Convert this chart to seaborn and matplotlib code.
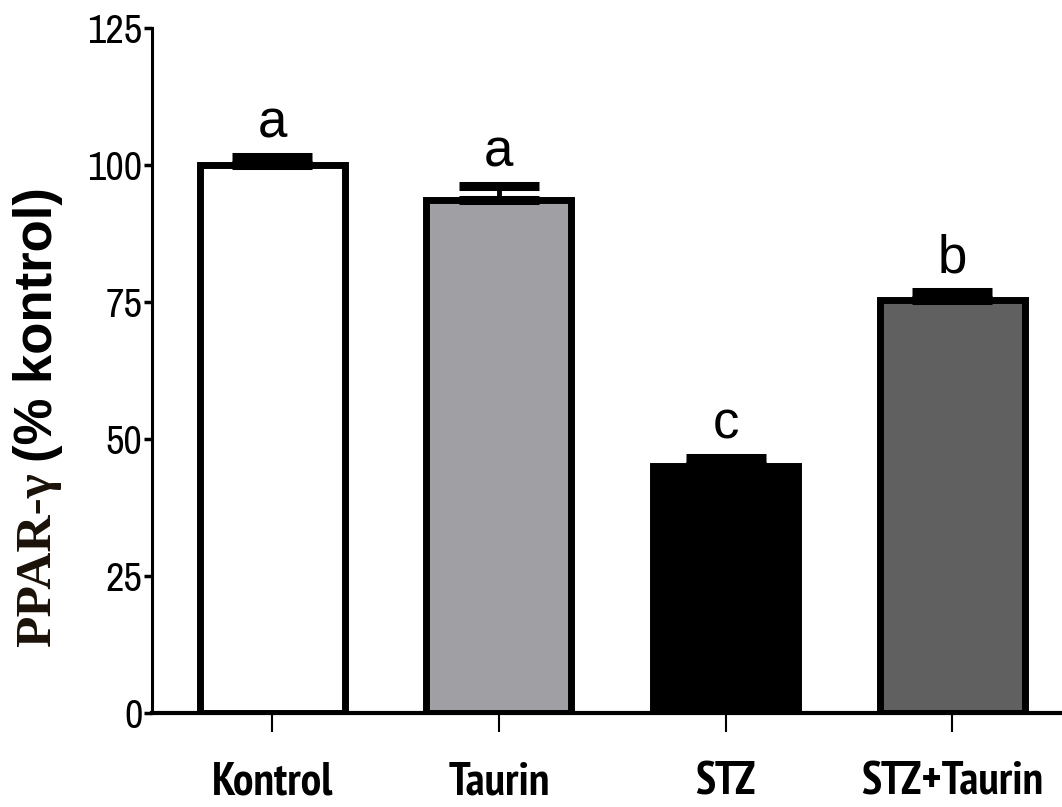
import numpy as np
import pandas as pd
import matplotlib
matplotlib.use("Agg")
import matplotlib.pyplot as plt
import seaborn as sns
from matplotlib import font_manager as fm

groups = ["Kontrol", "Taurin", "STZ", "STZ+Taurin"]
values = [100.0, 93.7, 45.0, 75.3]
errors = [1.55, 2.5, 1.5, 1.5]
letters = ["a", "a", "c", "b"]
colors = ["#ffffff", "#a0a0a4", "#000000", "#606060"]
yticks = [0, 25, 50, 75, 100, 125]


def find_font(bold):
    cands = [f for f in fm.fontManager.ttflist
             if "narrow" in f.fname.lower() and f.style == "normal"]
    want = 700 if bold else 400
    cands.sort(key=lambda f: abs((f.weight if isinstance(f.weight, int) else
                                  (700 if "bold" in str(f.weight) else 400)) - want))
    return cands[0].fname if cands else None


nar_reg = find_font(False)
nar_bold = find_font(True)


def fp(fname, size, fallback_weight="normal"):
    if fname:
        return fm.FontProperties(fname=fname, size=size)
    return fm.FontProperties(family="Liberation Sans", size=size * 0.85, weight=fallback_weight)


sns.set_theme(style="white")
plt.rcParams["font.family"] = ["Liberation Sans", "DejaVu Sans"]
for k in ["text.color", "axes.labelcolor", "xtick.color", "ytick.color", "axes.edgecolor"]:
    plt.rcParams[k] = "black"

df = pd.DataFrame({"group": groups, "value": values})

fig = plt.figure(figsize=(10.62, 8.07), dpi=100)
ax = fig.add_axes([152 / 1062, 94 / 807, 1 - 152 / 1062 + 0.01, (713 - 28) / 807])

sns.barplot(data=df, x="group", y="value", hue="group", palette=colors,
            order=groups, hue_order=groups, legend=False, width=0.64,
            edgecolor="black", linewidth=5, errorbar=None, ax=ax, zorder=2)

pos = np.arange(len(groups))
ax.errorbar(pos, values, yerr=[np.zeros(len(errors)), errors], fmt="none",
            ecolor="black", elinewidth=3.5, capsize=29, capthick=6.5, zorder=3)

for x, v, e, t in zip(pos, values, errors, letters):
    ax.annotate(t, (x, v + e), xytext=(0, 14), textcoords="offset points",
                ha="center", va="baseline", fontsize=38, family="Liberation Sans",
                color="black")

ax.set_ylim(0, 125)
ax.set_xlim(-0.53, 3.53)
ax.set_yticks(yticks)
ax.set_yticklabels([str(t) for t in yticks])
ax.set_xticks(pos)
ax.set_xticklabels(groups)
for lab in ax.get_yticklabels():
    lab.set_fontproperties(fp(nar_reg, 29))
for lab in ax.get_xticklabels():
    lab.set_fontproperties(fp(nar_bold, 33, "bold"))
ax.set_xlabel("")
ax.set_ylabel("")
for s in ["top", "right"]:
    ax.spines[s].set_visible(False)
ax.spines["left"].set_linewidth(2.2)
ax.spines["bottom"].set_linewidth(3)
ax.tick_params(axis="y", direction="out", length=6, width=2.5, pad=1, left=True, colors="black")
ax.tick_params(axis="x", direction="out", length=14, width=1.5, pad=21, bottom=True, colors="black")

fig.text(38 / 1062, 1 - 462 / 807, "(% kontrol)", rotation=90, ha="center", va="bottom",
         fontsize=38, fontweight="bold", family="Liberation Sans", color="black")
fig.text(38 / 1062, 1 - 472 / 807, "PPAR-\u03b3", rotation=90, ha="center", va="top",
         fontsize=37, fontweight="bold", family="Liberation Serif", color="#1a1208")

fig.savefig("out.png", dpi=100)
